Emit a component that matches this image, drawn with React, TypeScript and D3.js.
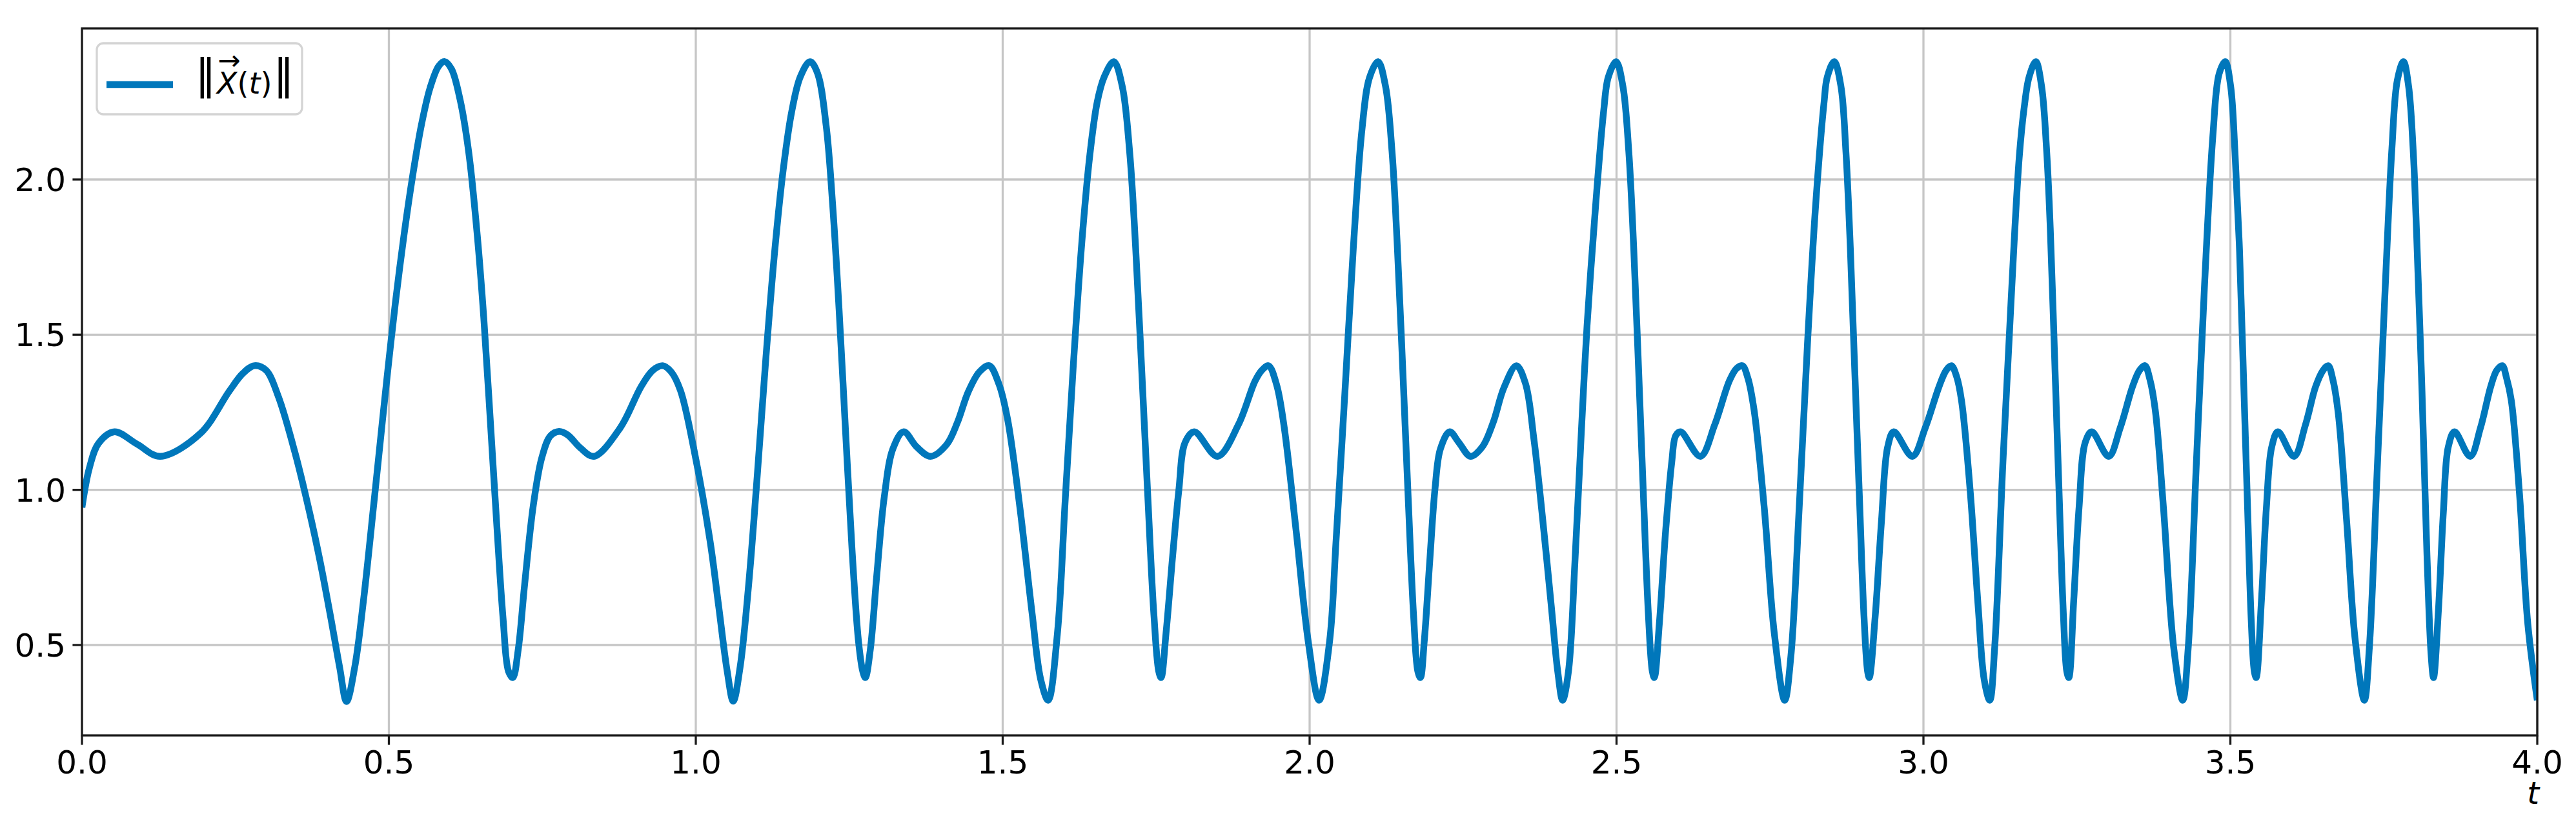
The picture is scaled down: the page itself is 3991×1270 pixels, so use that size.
import React from "react";
import * as d3 from "d3";

// ---- data, one small array pair per oscillation ----
const p0T = [0.0, 0.012, 0.027, 0.053, 0.09, 0.1275, 0.193, 0.24, 0.262, 0.281, 0.3, 0.32, 0.347, 0.3707, 0.3882, 0.4057, 0.4197, 0.431];
const p0V = [0.943, 1.07, 1.15, 1.187, 1.147, 1.108, 1.182, 1.318, 1.375, 1.4, 1.385, 1.3, 1.12, 0.928, 0.767, 0.584, 0.429, 0.318];

const p1aT = [0.4443, 0.4583, 0.4758, 0.4898, 0.5, 0.5109, 0.5249, 0.5389, 0.5529, 0.5669, 0.581, 0.5908, 0.602, 0.616, 0.63, 0.644, 0.6546, 0.665, 0.6756, 0.6861, 0.6949, 0.7019];
const p1aV = [0.428, 0.638, 0.962, 1.228, 1.417, 1.608, 1.825, 2.014, 2.175, 2.294, 2.365, 2.38, 2.356, 2.257, 2.089, 1.82, 1.554, 1.231, 0.893, 0.584, 0.415, 0.395];
const p1bT = [0.7107, 0.7212, 0.7352, 0.7492, 0.7632, 0.7773, 0.7913, 0.812, 0.834, 0.877, 0.911, 0.93, 0.946, 0.96, 0.975, 0.997, 1.0231, 1.0372, 1.0512, 1.061];
const p1bV = [0.485, 0.696, 0.949, 1.104, 1.174, 1.188, 1.177, 1.135, 1.108, 1.2, 1.333, 1.385, 1.4, 1.38, 1.32, 1.13, 0.837, 0.626, 0.415, 0.319];

const p2aT = [1.0722, 1.0862, 1.1002, 1.1143, 1.1283, 1.1423, 1.1563, 1.1703, 1.1861, 1.1984, 1.2124, 1.2229, 1.2334, 1.244, 1.2545, 1.265, 1.272, 1.2762];
const p2aV = [0.429, 0.696, 1.048, 1.428, 1.764, 2.03, 2.219, 2.331, 2.38, 2.342, 2.173, 1.92, 1.582, 1.188, 0.809, 0.513, 0.415, 0.395];
const p2bT = [1.2843, 1.2948, 1.3071, 1.3211, 1.3386, 1.3596, 1.3824, 1.4087, 1.4262, 1.4437, 1.462, 1.478, 1.494, 1.508, 1.528, 1.548, 1.562, 1.574];
const p2bV = [0.485, 0.724, 0.978, 1.132, 1.187, 1.139, 1.108, 1.146, 1.217, 1.315, 1.38, 1.4, 1.34, 1.227, 0.943, 0.6, 0.388, 0.322];

const p3aT = [1.589, 1.602, 1.615, 1.629, 1.642, 1.654, 1.6652, 1.681, 1.6948, 1.7068, 1.7166, 1.7265, 1.7364, 1.7463, 1.7542, 1.758];
const p3aV = [0.535, 0.973, 1.4, 1.8, 2.08, 2.25, 2.33, 2.38, 2.3, 2.089, 1.779, 1.385, 0.978, 0.598, 0.415, 0.395];
const p3bT = [1.766, 1.777, 1.787, 1.797, 1.812, 1.85, 1.884, 1.911, 1.922, 1.933, 1.946, 1.958, 1.978, 1.998, 2.0154];
const p3bV = [0.537, 0.79, 1.0, 1.152, 1.187, 1.108, 1.21, 1.35, 1.385, 1.4, 1.34, 1.21, 0.868, 0.508, 0.322];

const p4aT = [2.0326, 2.0431, 2.0571, 2.0712, 2.0852, 2.0975, 2.1115, 2.1237, 2.1343, 2.143, 2.1518, 2.1605, 2.1693, 2.1763, 2.1805];
const p4aV = [0.513, 0.837, 1.301, 1.779, 2.159, 2.328, 2.38, 2.3, 2.089, 1.779, 1.385, 0.978, 0.598, 0.415, 0.395];
const p4bT = [2.1868, 2.1956, 2.2044, 2.2131, 2.2282, 2.2429, 2.2622, 2.2815, 2.299, 2.3165, 2.3369, 2.3516, 2.3656, 2.3796, 2.3937, 2.4042, 2.4122];
const p4bV = [0.513, 0.767, 1.006, 1.132, 1.187, 1.153, 1.108, 1.139, 1.217, 1.329, 1.4, 1.343, 1.16, 0.907, 0.626, 0.415, 0.322];

const p5aT = [2.4217, 2.4322, 2.4427, 2.452, 2.466, 2.479, 2.4866, 2.4993, 2.5104, 2.52, 2.528, 2.536, 2.5439, 2.5519, 2.5583, 2.5615];
const p5aV = [0.415, 0.767, 1.188, 1.53, 1.918, 2.22, 2.33, 2.38, 2.3, 2.089, 1.779, 1.385, 0.978, 0.598, 0.415, 0.395];
const p5bT = [2.5697, 2.58, 2.59, 2.5965, 2.6045, 2.6367, 2.66, 2.6836, 2.695, 2.705, 2.714, 2.724, 2.7406, 2.757, 2.774];
const p5bV = [0.568, 0.868, 1.09, 1.175, 1.187, 1.108, 1.21, 1.35, 1.39, 1.4, 1.36, 1.258, 0.943, 0.538, 0.322];

const p6aT = [2.784, 2.7976, 2.811, 2.8244, 2.838, 2.8433, 2.8546, 2.8656, 2.8737, 2.8809, 2.888, 2.896, 2.903, 2.909, 2.9117];
const p6aV = [0.463, 0.943, 1.468, 1.918, 2.247, 2.33, 2.38, 2.3, 2.089, 1.779, 1.39, 0.96, 0.598, 0.415, 0.395];
const p6bT = [2.9216, 2.9316, 2.9417, 2.9517, 2.982, 3.003, 3.0255, 3.037, 3.0456, 3.054, 3.062, 3.076, 3.089, 3.099, 3.108];
const p6bV = [0.598, 0.898, 1.138, 1.187, 1.108, 1.2, 1.333, 1.385, 1.4, 1.365, 1.288, 1.0, 0.628, 0.388, 0.322];

const p7aT = [3.116, 3.1295, 3.143, 3.156, 3.164, 3.1721, 3.183, 3.1925, 3.2008, 3.2066, 3.2144, 3.2212, 3.228, 3.2335, 3.2368];
const p7aV = [0.49, 1.09, 1.618, 2.07, 2.23, 2.33, 2.38, 2.3, 2.089, 1.843, 1.385, 0.978, 0.598, 0.415, 0.395];
const p7bT = [3.2448, 3.2535, 3.2636, 3.2743, 3.3018, 3.3206, 3.3407, 3.352, 3.3608, 3.369, 3.3776, 3.391, 3.4078, 3.4225];
const p7bV = [0.643, 0.943, 1.153, 1.187, 1.108, 1.2, 1.333, 1.385, 1.4, 1.355, 1.258, 0.943, 0.49, 0.322];

const p8aT = [3.4313, 3.4447, 3.458, 3.4715, 3.4816, 3.4916, 3.5005, 3.5075, 3.515, 3.5211, 3.5275, 3.534, 3.539, 3.542];
const p8aV = [0.49, 1.09, 1.663, 2.14, 2.34, 2.38, 2.3, 2.089, 1.768, 1.385, 0.978, 0.58, 0.415, 0.395];
const p8bT = [3.5506, 3.5587, 3.5674, 3.5775, 3.6036, 3.6224, 3.639, 3.651, 3.6593, 3.667, 3.676, 3.6895, 3.703, 3.7183];
const p8bV = [0.643, 0.943, 1.138, 1.187, 1.108, 1.21, 1.333, 1.385, 1.4, 1.355, 1.243, 0.898, 0.523, 0.322];

const p9aT = [3.7264, 3.7398, 3.7532, 3.7632, 3.772, 3.782, 3.7904, 3.7977, 3.8035, 3.8122, 3.8203, 3.827, 3.831];
const p9aV = [0.49, 1.09, 1.693, 2.1, 2.32, 2.38, 2.3, 2.1, 1.82, 1.318, 0.79, 0.47, 0.395];
const p9bT = [3.839, 3.847, 3.855, 3.8652, 3.8907, 3.9075, 3.9242, 3.934, 3.943, 3.95, 3.9577, 3.971, 3.9846, 4.0];
const p9bV = [0.613, 0.928, 1.138, 1.187, 1.108, 1.2, 1.333, 1.385, 1.4, 1.36, 1.288, 0.988, 0.568, 0.322];

const tValues: number[] = [
  ...p0T, ...p1aT, ...p1bT, ...p2aT, ...p2bT, ...p3aT, ...p3bT, ...p4aT, ...p4bT,
  ...p5aT, ...p5bT, ...p6aT, ...p6bT, ...p7aT, ...p7bT, ...p8aT, ...p8bT, ...p9aT, ...p9bT,
];
const normValues: number[] = [
  ...p0V, ...p1aV, ...p1bV, ...p2aV, ...p2bV, ...p3aV, ...p3bV, ...p4aV, ...p4bV,
  ...p5aV, ...p5bV, ...p6aV, ...p6bV, ...p7aV, ...p7bV, ...p8aV, ...p8bV, ...p9aV, ...p9bV,
];

const xTicks: number[] = [0, 0.5, 1.0, 1.5, 2.0, 2.5, 3.0, 3.5, 4.0];
const xTickLabels: string[] = ["0.0", "0.5", "1.0", "1.5", "2.0", "2.5", "3.0", "3.5", "4.0"];
const yTicks: number[] = [0.5, 1.0, 1.5, 2.0];
const yTickLabels: string[] = ["0.5", "1.0", "1.5", "2.0"];
const xDomain: [number, number] = [0, 4];
const yDomain: [number, number] = [0.2087, 2.4868];

// ---- layout ----
const W = 3991;
const H = 1270;
const L = 127;
const R = 3931;
const T = 44;
const B = 1139;
const BLUE = "#0077bb";
const FONT = "DejaVu Sans";

export default function App() {
  React.useEffect(() => {
    document.body.style.margin = "0";
  }, []);

  const x = d3.scaleLinear().domain(xDomain).range([L, R]);
  const y = d3.scaleLinear().domain(yDomain).range([B, T]);

  const pts: [number, number][] = tValues.map((t, i) => [t, normValues[i]]);
  const line = d3
    .line<[number, number]>()
    .x((d) => x(d[0]))
    .y((d) => y(d[1]))
    .curve(d3.curveCatmullRom.alpha(0.5));
  const path = line(pts) || "";

  return (
    <svg
      width={W}
      height={H}
      viewBox={`0 0 ${W} ${H}`}
      style={{ position: "absolute", left: 0, top: 0, display: "block", background: "#fff" }}
    >
      <defs>
        <clipPath id="plotclip">
          <rect x={L} y={T} width={R - L} height={B - T} />
        </clipPath>
      </defs>
      <rect x={0} y={0} width={W} height={H} fill="#fff" />

      {/* grid */}
      <g stroke="#c6c6c6" strokeWidth={3.3}>
        {xTicks.map((t) => (
          <line key={"gx" + t} x1={x(t)} x2={x(t)} y1={T} y2={B} />
        ))}
        {yTicks.map((v) => (
          <line key={"gy" + v} x1={L} x2={R} y1={y(v)} y2={y(v)} />
        ))}
      </g>

      {/* curve */}
      <path
        d={path}
        fill="none"
        stroke={BLUE}
        strokeWidth={10.4}
        strokeLinejoin="round"
        strokeLinecap="butt"
        clipPath="url(#plotclip)"
      />

      {/* spines */}
      <rect x={L} y={T} width={R - L} height={B - T} fill="none" stroke="#1a1a1a" strokeWidth={3.3} />

      {/* x ticks */}
      <g>
        {xTicks.map((t, i) => (
          <g key={"xt" + t}>
            <line x1={x(t)} x2={x(t)} y1={B} y2={B + 14.6} stroke="#1a1a1a" strokeWidth={3.3} />
            <text x={x(t)} y={1198} textAnchor="middle" fontFamily={FONT} fontSize={50} fill="#000">
              {xTickLabels[i]}
            </text>
          </g>
        ))}
      </g>

      {/* y ticks */}
      <g>
        {yTicks.map((v, i) => (
          <g key={"yt" + v}>
            <line x1={L - 14.6} x2={L} y1={y(v)} y2={y(v)} stroke="#1a1a1a" strokeWidth={3.3} />
            <text x={102} y={y(v) + 18} textAnchor="end" fontFamily={FONT} fontSize={50} fill="#000">
              {yTickLabels[i]}
            </text>
          </g>
        ))}
      </g>

      {/* x label */}
      <text x={3934} y={1245} textAnchor="end" fontFamily={FONT} fontStyle="italic" fontSize={48} fill="#000">
        t
      </text>

      {/* legend */}
      <g>
        <rect x={150} y={67} width={318} height={110} rx={10} ry={10} fill="#fff" fillOpacity={0.8} stroke="#d4d4d4" strokeWidth={3.3} />
        <line x1={165} x2={268} y1={131} y2={131} stroke={BLUE} strokeWidth={10.4} />
        <text x={318.5} y={137} textAnchor="middle" fontFamily={FONT} fontSize={64} fill="#000">
          ‖
        </text>
        <text x={355} y={108} textAnchor="middle" fontFamily={FONT} fontSize={42} fill="#000">
          →
        </text>
        <text x={336} y={145} fontFamily={FONT} fontSize={46} fill="#000">
          <tspan fontStyle="italic">X</tspan>
          <tspan>(</tspan>
          <tspan fontStyle="italic">t</tspan>
          <tspan>)</tspan>
        </text>
        <text x={439.5} y={137} textAnchor="middle" fontFamily={FONT} fontSize={64} fill="#000">
          ‖
        </text>
      </g>
    </svg>
  );
}
